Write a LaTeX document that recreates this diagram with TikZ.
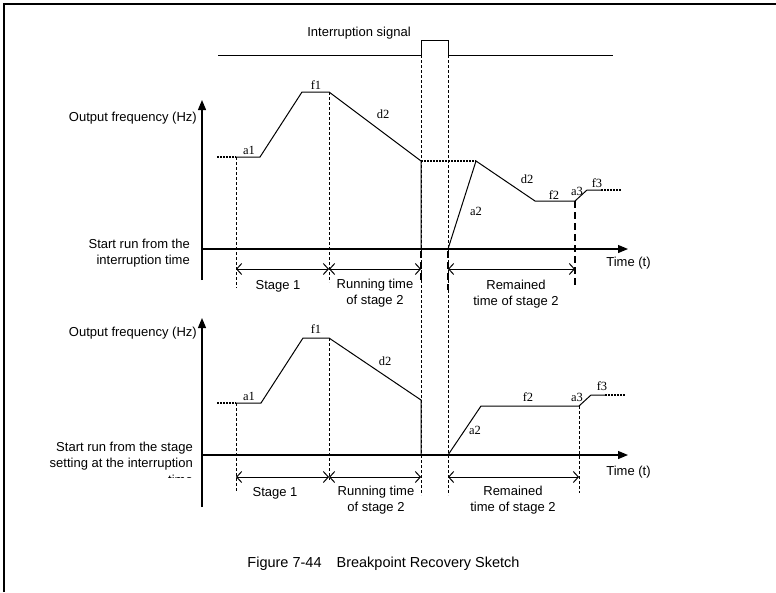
\documentclass[tikz,border=0pt]{standalone}
\usepackage{fontspec}
\setmainfont{Liberation Sans}
\newfontfamily\seriffont{Liberation Serif}
\usetikzlibrary{arrows.meta}
\begin{document}
\begin{tikzpicture}[x=1pt,y=-1pt,
  lbl/.style={font=\fontsize{13}{16}\selectfont, inner sep=0pt},
  captext/.style={font=\fontsize{14.5}{17}\selectfont, inner sep=0pt},
  sl/.style={font=\seriffont\fontsize{12.5}{14}\selectfont, inner sep=0pt},
  curve/.style={line width=1pt, line join=miter},
  vdash/.style={line width=0.9pt, dash pattern=on 3pt off 2pt},
  tdash/.style={line width=2pt, dash pattern=on 7pt off 4pt},
  dots/.style={line width=2pt, dash pattern=on 2pt off 1pt},
  axis/.style={line width=1.2pt, -{Triangle[length=10pt,width=8pt]}},
  dim/.style={line width=1pt, {Straight Barb[length=5pt,width=11pt]}-{Straight Barb[length=5pt,width=11pt]}},
]
\useasboundingbox (0,0) rectangle (776,592);
% frame (top and left edges)
\draw[line width=2pt] (4,592) -- (4,4) -- (776,4);

% ---------------- interruption signal ----------------
\node[lbl] (sig) at (359,33) {Interruption signal};
\coordinate (s0) at (218,55);
\coordinate (s1) at (421,55);
\coordinate (s2) at (421,40);
\coordinate (s3) at (448,40);
\coordinate (s4) at (448,55);
\coordinate (s5) at (613,55);
\draw[curve] (s0) -- (s1) -- (s2) -- (s3) -- (s4) -- (s5);

% long dashed verticals through both plots
\coordinate (v1b) at (421,495);
\coordinate (v2b) at (448,495);
\draw[vdash] (s1) -- (v1b);
\draw[vdash] (s4) -- (v2b);

% ---------------- top plot ----------------
\coordinate (tyb) at (202,280);
\coordinate (tyt) at (202,100);
\coordinate (txl) at (202,249);
\coordinate (txr) at (628,249);
\draw[axis] (tyb) -- (tyt);
\draw[axis] (txl) -- (txr);
\node[lbl, anchor=east] (tyl) at (197,118) {Output frequency (Hz)};
\node[lbl] (txlab) at (628.5,263) {Time (t)};
\node[lbl, anchor=east, align=right] (tstart) at (190,253.5) {Start run from the\\interruption time};

\coordinate (A0) at (217,157);
\coordinate (A1) at (236,157);
\coordinate (A2) at (260,157);
\coordinate (A3) at (302,92);
\coordinate (A4) at (329,92);
\coordinate (A5) at (421,161);
\coordinate (A5b) at (421,249);
\coordinate (A6) at (476,161);
\coordinate (A7) at (535,201);
\coordinate (A8) at (575,201);
\coordinate (A9) at (587,190);
\coordinate (A10) at (601,190);
\coordinate (A11) at (621,190);
\coordinate (S0) at (448,249);

\draw[dots] (A0) -- (A1);
\draw[curve] (A1) -- (A2) -- (A3) -- (A4) -- (A5) -- (A5b);
\draw[dots] (A5) -- (A6);
\draw[curve] (S0) -- (A6) -- (A7) -- (A8) -- (A9) -- (A10);
\draw[dots] (A10) -- (A11);

\coordinate (A1d) at (236,288);
\coordinate (A4d) at (329,282);
\coordinate (A8d) at (575,288);
\draw[vdash] (A1) -- (A1d);
\draw[vdash] (A4) -- (A4d);
\draw[tdash] (A8) -- (A8d);
\coordinate (t421a) at (421,251);
\coordinate (t421b) at (421,282);
\coordinate (t448a) at (448,251);
\coordinate (t448b) at (448,290);
\draw[tdash] (t421a) -- (t421b);
\draw[tdash] (t448a) -- (t448b);

\coordinate (d1) at (236,269);
\coordinate (d2) at (329,269);
\coordinate (d3) at (421,269);
\coordinate (d4) at (448,269);
\coordinate (d5) at (575,269);
\draw[dim] (d1) -- (d2);
\draw[dim] (d2) -- (d3);
\draw[dim] (d4) -- (d5);
\node[lbl] (ts1) at (278,286) {Stage 1};
\node[lbl, align=center] (ts2) at (375,293.5) {Running time\\of stage 2};
\node[lbl, align=center] (ts3) at (516,294.5) {Remained\\time of stage 2};

\node[sl] (ta1) at (249,150) {a1};
\node[sl] (tf1) at (316,85) {f1};
\node[sl] (td2) at (383,114) {d2};
\node[sl] (ta2) at (476,211) {a2};
\node[sl] (td2b) at (527,179) {d2};
\node[sl] (tf2) at (554,195) {f2};
\node[sl] (ta3) at (577,191) {a3};
\node[sl] (tf3) at (597,183) {f3};

% ---------------- bottom plot ----------------
\coordinate (byb) at (202,507);
\coordinate (byt) at (202,318);
\coordinate (bxl) at (202,455);
\coordinate (bxr) at (628,455);
\draw[axis] (byb) -- (byt);
\draw[axis] (bxl) -- (bxr);
\node[lbl, anchor=east] (byl) at (197,333) {Output frequency (Hz)};
\node[lbl] (bxlab) at (628.5,472) {Time (t)};
\node[lbl, anchor=east, align=right] (bstart) at (193,456.5) {Start run from the stage\\setting at the interruption};
\begin{scope}
  \clip (100,472) rectangle (200,477.3);
  \node[lbl, anchor=base east] (btime) at (193,484.5) {time};
\end{scope}

\coordinate (B0) at (217,403);
\coordinate (B1) at (236,403);
\coordinate (B2) at (261,403);
\coordinate (B3) at (303,338);
\coordinate (B4) at (329,338);
\coordinate (B5) at (421,400);
\coordinate (B5b) at (421,455);
\coordinate (C0) at (448,455);
\coordinate (C1) at (481,406);
\coordinate (C2) at (579,406);
\coordinate (C3) at (591,395);
\coordinate (C4) at (605,395);
\coordinate (C5) at (625,395);

\draw[dots] (B0) -- (B1);
\draw[curve] (B1) -- (B2) -- (B3) -- (B4) -- (B5) -- (B5b);
\draw[curve] (C0) -- (C1) -- (C2) -- (C3) -- (C4);
\draw[dots] (C4) -- (C5);

\coordinate (B1d) at (236,492);
\coordinate (B4d) at (329,480);
\coordinate (C2d) at (579,493);
\draw[vdash] (B1) -- (B1d);
\draw[vdash] (B4) -- (B4d);
\draw[vdash] (C2) -- (C2d);

\coordinate (e1) at (236,477);
\coordinate (e2) at (329,477);
\coordinate (e3) at (421,477);
\coordinate (e4) at (448,477);
\coordinate (e5) at (579,477);
\draw[dim] (e1) -- (e2);
\draw[dim] (e2) -- (e3);
\draw[dim] (e4) -- (e5);
\node[lbl] (bs1) at (275,493) {Stage 1};
\node[lbl, align=center] (bs2) at (376,500.5) {Running time\\of stage 2};
\node[lbl, align=center] (bs3) at (513,500.5) {Remained\\time of stage 2};

\node[sl] (ba1) at (249,396) {a1};
\node[sl] (bf1) at (316,329) {f1};
\node[sl] (bd2) at (385,361) {d2};
\node[sl] (ba2) at (475,430) {a2};
\node[sl] (bf2) at (528,397) {f2};
\node[sl] (ba3) at (577,397) {a3};
\node[sl] (bf3) at (602,386) {f3};

% caption
\node[captext] (caption) at (383.5,564) {Figure 7-44\hspace{15pt}Breakpoint Recovery Sketch};
\end{tikzpicture}
\end{document}
